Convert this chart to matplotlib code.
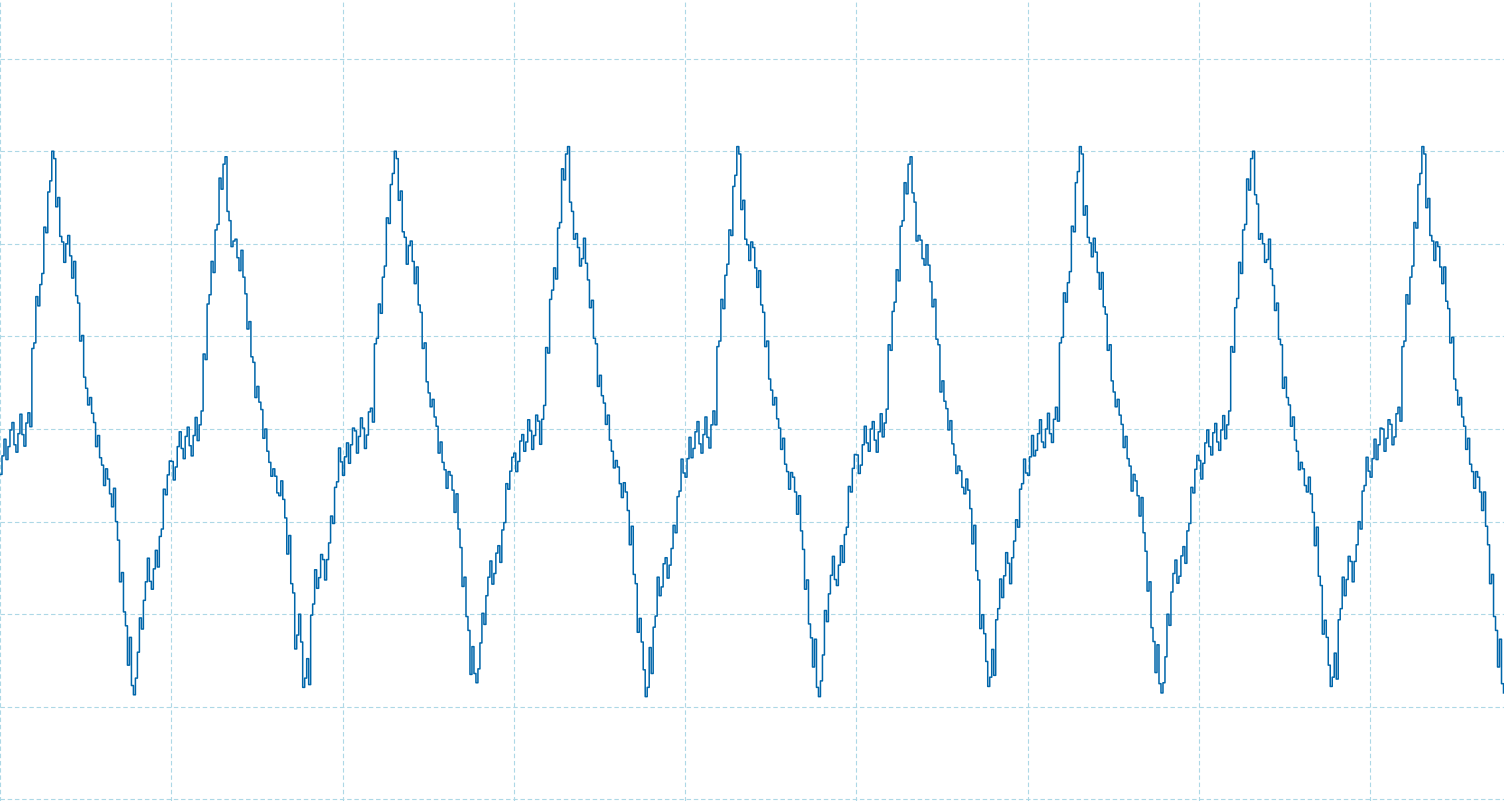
import numpy as np
import matplotlib
matplotlib.use("Agg")
from matplotlib import pyplot as plt

# one list per period of the trace (volts), 43 samples per grid division
cycle1 = [-0.39, -0.22, -0.10, -0.05, -0.15, 0.05, -0.06, 0.10, 0.90, 1.38, 1.62, 2.15, 2.62, 2.96, 2.45,
          2.05, 1.90, 1.98, 1.72, 1.40, 0.98, 0.50, 0.30, 0.12, -0.13, -0.35, -0.52, -0.62, -0.74, -1.10,
          -1.60, -2.05, -2.40, -2.82, -2.55, -2.10, -1.75, -1.52, -1.62, -1.40, -1.12, -0.68, -0.42]
cycle2 = [-0.45, -0.30, -0.12, -0.20, -0.08, -0.18, 0.00, 0.12, 0.78, 1.40, 1.75, 2.18, 2.65, 2.90, 2.30,
          2.00, 1.95, 1.82, 1.55, 1.12, 0.75, 0.40, 0.25, -0.05, -0.30, -0.47, -0.60, -0.64, -0.86, -1.25,
          -1.72, -2.30, -2.15, -2.74, -2.62, -1.95, -1.62, -1.48, -1.52, -1.32, -0.98, -0.60, -0.28]
cycle3 = [-0.40, -0.26, -0.08, -0.14, 0.02, -0.10, 0.06, 0.15, 0.95, 1.30, 1.70, 2.25, 2.70, 2.96, 2.52,
          2.10, 1.88, 1.92, 1.66, 1.30, 0.90, 0.45, 0.28, 0.08, -0.20, -0.40, -0.55, -0.58, -0.80, -1.18,
          -1.65, -2.10, -2.50, -2.69, -2.45, -2.05, -1.70, -1.55, -1.45, -1.35, -1.05, -0.62, -0.38]
cycle4 = [-0.36, -0.24, -0.15, -0.02, -0.12, 0.04, -0.04, 0.18, 0.85, 1.45, 1.68, 2.20, 2.75, 3.01, 2.40,
          2.08, 1.86, 1.95, 1.70, 1.35, 0.95, 0.52, 0.32, 0.10, -0.18, -0.38, -0.50, -0.66, -0.78, -1.15,
          -1.62, -2.12, -2.45, -2.84, -2.50, -2.08, -1.70, -1.58, -1.50, -1.38, -1.08, -0.70, -0.40]
cycle5 = [-0.42, -0.20, -0.12, -0.04, -0.16, 0.02, -0.08, 0.12, 0.92, 1.35, 1.72, 2.12, 2.68, 3.01, 2.42,
          2.02, 1.92, 1.85, 1.62, 1.30, 0.92, 0.48, 0.30, 0.06, -0.16, -0.42, -0.56, -0.60, -0.82, -1.20,
          -1.68, -2.18, -2.42, -2.84, -2.58, -2.02, -1.68, -1.50, -1.58, -1.35, -1.10, -0.65, -0.35]
cycle6 = [-0.38, -0.28, -0.06, -0.12, -0.02, -0.14, 0.04, 0.14, 0.88, 1.32, 1.66, 2.22, 2.60, 2.90, 2.50,
          2.06, 1.94, 1.88, 1.68, 1.36, 0.94, 0.46, 0.26, 0.04, -0.22, -0.44, -0.54, -0.62, -0.76, -1.14,
          -1.58, -2.08, -2.36, -2.73, -2.52, -2.00, -1.72, -1.46, -1.56, -1.30, -1.02, -0.62, -0.40]
cycle7 = [-0.40, -0.18, -0.14, -0.02, -0.10, 0.06, -0.02, 0.16, 0.96, 1.42, 1.64, 2.16, 2.72, 3.01, 2.36,
          2.04, 1.96, 1.80, 1.60, 1.28, 0.88, 0.46, 0.28, 0.10, -0.14, -0.36, -0.58, -0.64, -0.84, -1.22,
          -1.70, -2.22, -2.48, -2.80, -2.60, -2.06, -1.66, -1.54, -1.48, -1.36, -1.06, -0.66, -0.36]
cycle8 = [-0.44, -0.26, -0.10, -0.16, -0.04, -0.12, 0.02, 0.12, 0.86, 1.36, 1.74, 2.18, 2.64, 2.96, 2.48,
          2.08, 1.90, 1.94, 1.64, 1.32, 0.94, 0.50, 0.30, 0.08, -0.18, -0.40, -0.52, -0.60, -0.80, -1.16,
          -1.64, -2.14, -2.40, -2.73, -2.56, -2.00, -1.70, -1.50, -1.54, -1.34, -1.04, -0.64, -0.38]
cycle9 = [-0.42, -0.22, -0.08, -0.12, 0.00, -0.06, 0.04, 0.16, 0.92, 1.40, 1.70, 2.20, 2.70, 3.01, 2.44,
          2.06, 1.92, 1.86, 1.66, 1.34, 0.96, 0.48, 0.30, 0.08, -0.16, -0.42, -0.55, -0.60, -0.78, -1.15,
          -1.62, -2.10, -2.42, -2.80]

# peak-to-peak ripple seen around each sample of a period (volts)
ripple = [0.20, 0.22, 0.18, 0.24, 0.20, 0.22, 0.25, 0.15, 0.06, 0.10, 0.12, 0.06, 0.12, 0.08, 0.10,
          0.06, 0.20, 0.22, 0.18, 0.08, 0.06, 0.12, 0.08, 0.10, 0.12, 0.08, 0.18, 0.16, 0.20, 0.20,
          0.10, 0.15, 0.30, 0.10, 0.28, 0.12, 0.20, 0.25, 0.22, 0.18, 0.08, 0.06, 0.15]

samples_per_div = 43
signal = np.array(cycle1 + cycle2 + cycle3 + cycle4 + cycle5 + cycle6 + cycle7 + cycle8 + cycle9)
rip = np.array((ripple * 9)[:len(signal)])
t = np.arange(len(signal)) / samples_per_div

# peak-detect style trace: min and max of each sample bucket
lo = signal - rip / 2
hi = signal + rip / 2
first = np.where(np.arange(len(signal)) % 2 == 0, lo, hi)
second = np.where(np.arange(len(signal)) % 2 == 0, hi, lo)
tt = np.column_stack([t, t + 0.5 / samples_per_div]).ravel()
yy = np.column_stack([first, second]).ravel()

fig = plt.figure(figsize=(15.04, 8.01), dpi=100)
ax = fig.add_axes([0, 0, 1, 1])
ax.plot(tt, yy, color='#0066aa', lw=1.1, drawstyle='steps-post', zorder=3)

ax.set_xlim(0, 8.782)
ax.set_ylim(-4.017, 4.633)
ax.set_xticks(np.arange(0, 9))
ax.set_yticks(np.arange(-4, 5))
ax.grid(True, color='#add8e6', lw=0.8, ls=(0, (4, 2.5)))
ax.tick_params(length=0, labelbottom=False, labelleft=False)
for s in ax.spines.values():
    s.set_visible(False)

fig.savefig('out.png', dpi=100)
